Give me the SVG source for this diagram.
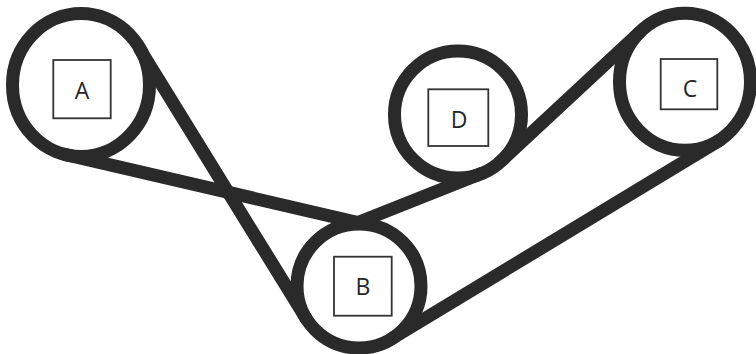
<svg xmlns="http://www.w3.org/2000/svg" width="756" height="354" viewBox="0 0 756 354">
  <style>
    .belt { fill: none; stroke: #2a2a2a; stroke-width: 13; }
    .run { fill: none; stroke: #2a2a2a; stroke-width: 13; stroke-linecap: round; stroke-linejoin: miter; }
    .box { fill: #ffffff; stroke: #333333; stroke-width: 1.8; }
    .lbl { font-family: "Open Sans", "Liberation Sans", Arial, sans-serif; font-size: 23px; fill: #262626; text-anchor: middle; }
  </style>
  <rect width="756" height="354" fill="#ffffff"/>

  <!-- straight belt runs between pulleys -->
  <g id="connectors">
    <!-- A (bottom) to B (top) and on to D (bottom) -->
    <polyline class="run" points="64.8,154.3 358,222.5 481.4,173.5"/>
    <!-- A (right) crossing down to B (left) -->
    <line class="run" x1="139.7" y1="48.8" x2="306.2" y2="318.6"/>
    <!-- D (right) up to C (top-left) -->
    <line class="run" x1="501.2" y1="161" x2="639.4" y2="32.6"/>
    <!-- C (bottom) back to B (bottom-right) -->
    <line class="run" x1="720.2" y1="139.9" x2="391.1" y2="339"/>
  </g>

  <g id="pulley-A">
    <ellipse class="belt" cx="81" cy="85" rx="68.5" ry="71.5"/>
    <rect class="box" x="53.3" y="60" width="57.4" height="58.3"/>
    <text class="lbl" x="82" y="99">A</text>
  </g>

  <g id="pulley-B">
    <circle class="belt" cx="359" cy="286" r="62"/>
    <rect class="box" x="334" y="256.7" width="57.7" height="59"/>
    <text class="lbl" x="363" y="295">B</text>
  </g>

  <g id="pulley-C">
    <ellipse class="belt" cx="685" cy="81.7" rx="65.5" ry="68.5"/>
    <rect class="box" x="660.7" y="59" width="56.6" height="50.3"/>
    <text class="lbl" x="690" y="97">C</text>
  </g>

  <g id="pulley-D">
    <circle class="belt" cx="458" cy="114.5" r="63.5"/>
    <rect class="box" x="428.3" y="89.3" width="60" height="56.7"/>
    <text class="lbl" x="459" y="128">D</text>
  </g>
</svg>
